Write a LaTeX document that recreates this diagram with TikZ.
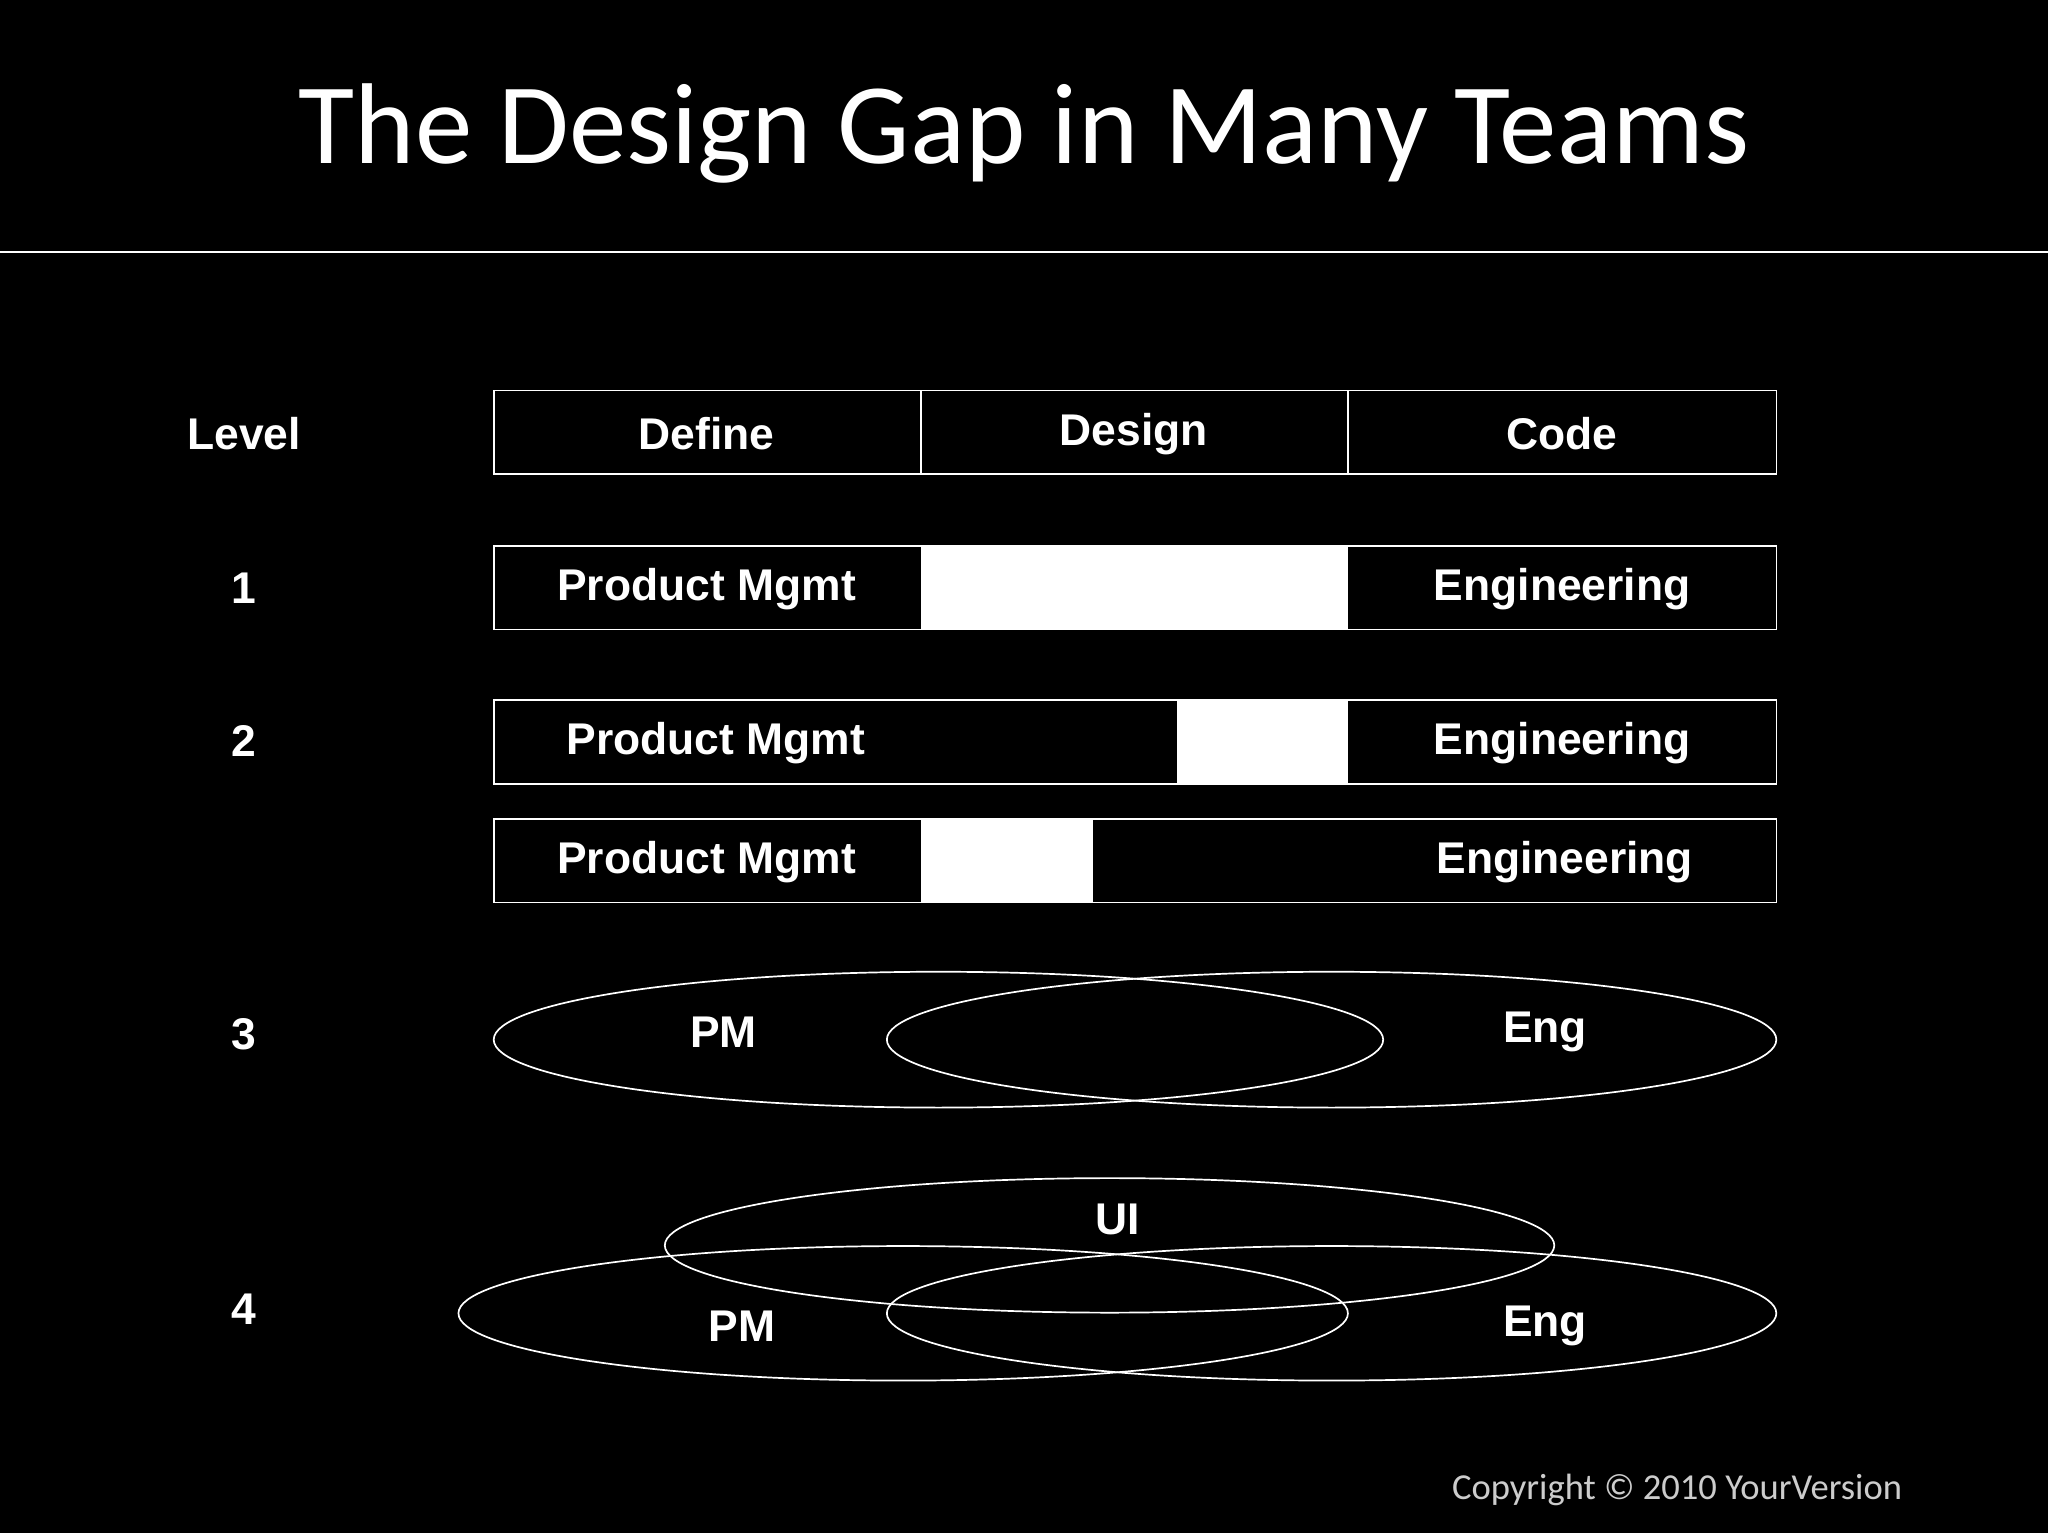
\documentclass[tikz,border=0pt]{standalone}
\usepackage{fontspec}
\setmainfont{Liberation Sans}
\newfontfamily\calib{Carlito}
\begin{document}
\begin{tikzpicture}[x=1pt,y=-1pt,
  lbl/.style={text=white,font=\fontsize{34}{40}\selectfont\bfseries,inner sep=0pt},
  bx/.style={draw=white,line width=1.3pt},
  el/.style={draw=white,line width=1.3pt}]
\fill[black] (0,0) rectangle (1568,1174);
\useasboundingbox (0,0) rectangle (1568,1174);
\node[text=white,font=\calib\fontsize{88}{100}\selectfont,inner sep=0pt] (title) at (784,102) {The Design Gap in Many Teams};
\coordinate (la) at (0,193); \coordinate (lb) at (1568,193);
\draw[white,line width=1.2pt] (la) -- (lb);
% header
\draw[bx] (378,299) rectangle (1360,363);
\draw[bx] (705,299) -- (705,363);
\draw[bx] (1032,299) -- (1032,363);
\node[lbl] (lv) at (187,332) {Level};
\node[lbl] (h1) at (541,332) {Define};
\node[lbl] (h2) at (868,332) {Design};
\node[lbl] (h3) at (1196,332) {Code};
% row 1
\fill[white] (705,418) rectangle (1032,482);
\draw[bx] (378,418) rectangle (1360,482);
\node[lbl] (n1) at (187,450) {1};
\node[lbl] (r1a) at (541,451) {Product Mgmt};
\node[lbl] (r1b) at (1196,451) {Engineering};
% row 2
\fill[white] (901,536) rectangle (1032,600);
\draw[bx] (378,536) rectangle (1360,600);
\node[lbl] (n2) at (187,567) {2};
\node[lbl] (r2a) at (548,569) {Product Mgmt};
\node[lbl] (r2b) at (1196,569) {Engineering};
% row 2b
\fill[white] (705,627) rectangle (837,691);
\draw[bx] (378,627) rectangle (1360,691);
\node[lbl] (r3a) at (541,660) {Product Mgmt};
\node[lbl] (r3b) at (1198,660) {Engineering};
% level 3
\node[lbl] (n3) at (187,792) {3};
\draw[el] (718.5,796) ellipse [x radius=340.5, y radius=52];
\draw[el] (1019.5,796) ellipse [x radius=340.5, y radius=52];
\node[lbl] (p3) at (554,790) {PM};
\node[lbl] (e3) at (1183,790) {Eng};
% level 4
\node[lbl] (n4) at (187,1002) {4};
\draw[el] (849.5,953.5) ellipse [x radius=340.5, y radius=51.5];
\draw[el] (691.5,1005.5) ellipse [x radius=340.5, y radius=51.5];
\draw[el] (1019.5,1005.5) ellipse [x radius=340.5, y radius=51.5];
\node[lbl] (u4) at (856,934) {UI};
\node[lbl] (p4) at (568,1015) {PM};
\node[lbl] (e4) at (1183,1015) {Eng};
\node[text=white!80!black,font=\calib\fontsize{28}{32}\selectfont,inner sep=0pt] (cp) at (1284,1141) {Copyright © 2010 YourVersion};
\end{tikzpicture}
\end{document}
